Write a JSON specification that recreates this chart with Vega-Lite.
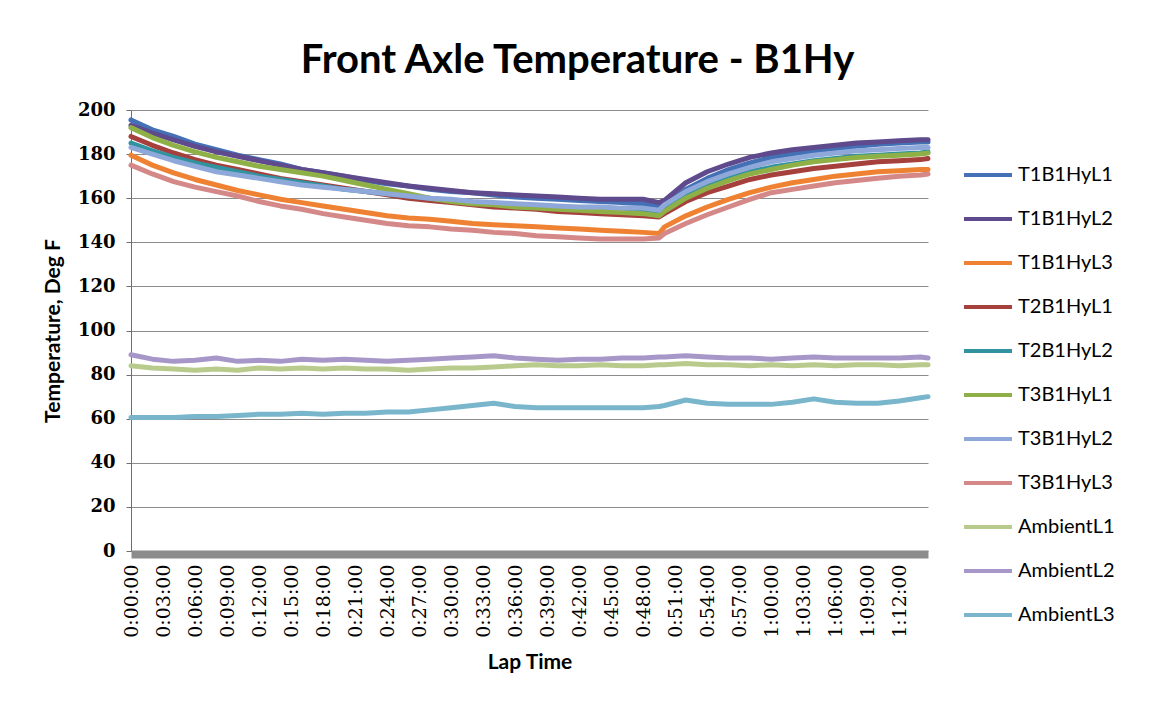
{
  "$schema": "https://vega.github.io/schema/vega-lite/v6.json",
  "autosize": {"type": "none"},
  "width": 797,
  "height": 441,
  "padding": {"left": 131, "top": 110, "right": 223, "bottom": 161},
  "background": "white",
  "title": {
    "text": "Front Axle Temperature - B1Hy",
    "font": "Lato",
    "fontSize": 40,
    "fontWeight": "bold",
    "color": "#000000",
    "anchor": "middle",
    "frame": "group",
    "dx": 48,
    "offset": 20
  },
  "config": {
    "view": {"stroke": null},
    "font": "Lato"
  },
  "data": {
    "values": [
{"t":0,"s":"T1B1HyL1","v":195.5},{"t":120000,"s":"T1B1HyL1","v":191},{"t":240000,"s":"T1B1HyL1","v":188},{"t":360000,"s":"T1B1HyL1","v":184.5},{"t":480000,"s":"T1B1HyL1","v":182},{"t":600000,"s":"T1B1HyL1","v":179.5},{"t":720000,"s":"T1B1HyL1","v":177.5},{"t":840000,"s":"T1B1HyL1","v":175.5},{"t":960000,"s":"T1B1HyL1","v":173},{"t":1080000,"s":"T1B1HyL1","v":171.5},{"t":1200000,"s":"T1B1HyL1","v":170},{"t":1320000,"s":"T1B1HyL1","v":168},{"t":1440000,"s":"T1B1HyL1","v":166.5},{"t":1560000,"s":"T1B1HyL1","v":165.5},{"t":1680000,"s":"T1B1HyL1","v":164},{"t":1800000,"s":"T1B1HyL1","v":163},{"t":1920000,"s":"T1B1HyL1","v":162.5},{"t":2040000,"s":"T1B1HyL1","v":161.5},{"t":2160000,"s":"T1B1HyL1","v":160.5},{"t":2280000,"s":"T1B1HyL1","v":160},{"t":2400000,"s":"T1B1HyL1","v":159.5},{"t":2520000,"s":"T1B1HyL1","v":159},{"t":2640000,"s":"T1B1HyL1","v":158.5},{"t":2760000,"s":"T1B1HyL1","v":158},{"t":2880000,"s":"T1B1HyL1","v":157.5},{"t":2970000,"s":"T1B1HyL1","v":156},{"t":3000000,"s":"T1B1HyL1","v":157},{"t":3120000,"s":"T1B1HyL1","v":164},{"t":3240000,"s":"T1B1HyL1","v":169},{"t":3360000,"s":"T1B1HyL1","v":173},{"t":3480000,"s":"T1B1HyL1","v":176},{"t":3600000,"s":"T1B1HyL1","v":178.5},{"t":3720000,"s":"T1B1HyL1","v":180},{"t":3840000,"s":"T1B1HyL1","v":181.5},{"t":3960000,"s":"T1B1HyL1","v":182.5},{"t":4080000,"s":"T1B1HyL1","v":183.5},{"t":4200000,"s":"T1B1HyL1","v":184.5},{"t":4320000,"s":"T1B1HyL1","v":185},{"t":4440000,"s":"T1B1HyL1","v":185.5},{"t":4482000,"s":"T1B1HyL1","v":185.5},
{"t":0,"s":"T1B1HyL2","v":193},{"t":120000,"s":"T1B1HyL2","v":189.5},{"t":240000,"s":"T1B1HyL2","v":186.5},{"t":360000,"s":"T1B1HyL2","v":183.5},{"t":480000,"s":"T1B1HyL2","v":181},{"t":600000,"s":"T1B1HyL2","v":179},{"t":720000,"s":"T1B1HyL2","v":177},{"t":840000,"s":"T1B1HyL2","v":175},{"t":960000,"s":"T1B1HyL2","v":173},{"t":1080000,"s":"T1B1HyL2","v":171.5},{"t":1200000,"s":"T1B1HyL2","v":170},{"t":1320000,"s":"T1B1HyL2","v":168.5},{"t":1440000,"s":"T1B1HyL2","v":167},{"t":1560000,"s":"T1B1HyL2","v":165.5},{"t":1680000,"s":"T1B1HyL2","v":164.5},{"t":1800000,"s":"T1B1HyL2","v":163.5},{"t":1920000,"s":"T1B1HyL2","v":162.5},{"t":2040000,"s":"T1B1HyL2","v":162},{"t":2160000,"s":"T1B1HyL2","v":161.5},{"t":2280000,"s":"T1B1HyL2","v":161},{"t":2400000,"s":"T1B1HyL2","v":160.5},{"t":2520000,"s":"T1B1HyL2","v":160},{"t":2640000,"s":"T1B1HyL2","v":159.5},{"t":2760000,"s":"T1B1HyL2","v":159.5},{"t":2880000,"s":"T1B1HyL2","v":159.5},{"t":2970000,"s":"T1B1HyL2","v":158},{"t":3000000,"s":"T1B1HyL2","v":159},{"t":3120000,"s":"T1B1HyL2","v":167},{"t":3240000,"s":"T1B1HyL2","v":172},{"t":3360000,"s":"T1B1HyL2","v":175.5},{"t":3480000,"s":"T1B1HyL2","v":178.5},{"t":3600000,"s":"T1B1HyL2","v":180.5},{"t":3720000,"s":"T1B1HyL2","v":182},{"t":3840000,"s":"T1B1HyL2","v":183},{"t":3960000,"s":"T1B1HyL2","v":184},{"t":4080000,"s":"T1B1HyL2","v":185},{"t":4200000,"s":"T1B1HyL2","v":185.5},{"t":4320000,"s":"T1B1HyL2","v":186},{"t":4440000,"s":"T1B1HyL2","v":186.5},{"t":4482000,"s":"T1B1HyL2","v":186.5},
{"t":0,"s":"T1B1HyL3","v":179.5},{"t":120000,"s":"T1B1HyL3","v":175},{"t":240000,"s":"T1B1HyL3","v":171.5},{"t":360000,"s":"T1B1HyL3","v":168.5},{"t":480000,"s":"T1B1HyL3","v":166},{"t":600000,"s":"T1B1HyL3","v":163.5},{"t":720000,"s":"T1B1HyL3","v":161.5},{"t":840000,"s":"T1B1HyL3","v":159.5},{"t":960000,"s":"T1B1HyL3","v":158},{"t":1080000,"s":"T1B1HyL3","v":156.5},{"t":1200000,"s":"T1B1HyL3","v":155},{"t":1320000,"s":"T1B1HyL3","v":153.5},{"t":1440000,"s":"T1B1HyL3","v":152},{"t":1560000,"s":"T1B1HyL3","v":151},{"t":1680000,"s":"T1B1HyL3","v":150.5},{"t":1800000,"s":"T1B1HyL3","v":149.5},{"t":1920000,"s":"T1B1HyL3","v":148.5},{"t":2040000,"s":"T1B1HyL3","v":148},{"t":2160000,"s":"T1B1HyL3","v":147.5},{"t":2280000,"s":"T1B1HyL3","v":147},{"t":2400000,"s":"T1B1HyL3","v":146.5},{"t":2520000,"s":"T1B1HyL3","v":146},{"t":2640000,"s":"T1B1HyL3","v":145.5},{"t":2760000,"s":"T1B1HyL3","v":145},{"t":2880000,"s":"T1B1HyL3","v":144.5},{"t":2970000,"s":"T1B1HyL3","v":144},{"t":3000000,"s":"T1B1HyL3","v":147},{"t":3120000,"s":"T1B1HyL3","v":152},{"t":3240000,"s":"T1B1HyL3","v":156},{"t":3360000,"s":"T1B1HyL3","v":159.5},{"t":3480000,"s":"T1B1HyL3","v":162.5},{"t":3600000,"s":"T1B1HyL3","v":165},{"t":3720000,"s":"T1B1HyL3","v":167},{"t":3840000,"s":"T1B1HyL3","v":168.5},{"t":3960000,"s":"T1B1HyL3","v":170},{"t":4080000,"s":"T1B1HyL3","v":171},{"t":4200000,"s":"T1B1HyL3","v":172},{"t":4320000,"s":"T1B1HyL3","v":172.5},{"t":4440000,"s":"T1B1HyL3","v":173},{"t":4482000,"s":"T1B1HyL3","v":173},
{"t":0,"s":"T2B1HyL1","v":188},{"t":120000,"s":"T2B1HyL1","v":184},{"t":240000,"s":"T2B1HyL1","v":180.5},{"t":360000,"s":"T2B1HyL1","v":177.5},{"t":480000,"s":"T2B1HyL1","v":175},{"t":600000,"s":"T2B1HyL1","v":173},{"t":720000,"s":"T2B1HyL1","v":171},{"t":840000,"s":"T2B1HyL1","v":169},{"t":960000,"s":"T2B1HyL1","v":167.5},{"t":1080000,"s":"T2B1HyL1","v":166},{"t":1200000,"s":"T2B1HyL1","v":164.5},{"t":1320000,"s":"T2B1HyL1","v":163},{"t":1440000,"s":"T2B1HyL1","v":161.5},{"t":1560000,"s":"T2B1HyL1","v":160},{"t":1680000,"s":"T2B1HyL1","v":159},{"t":1800000,"s":"T2B1HyL1","v":158},{"t":1920000,"s":"T2B1HyL1","v":157},{"t":2040000,"s":"T2B1HyL1","v":156},{"t":2160000,"s":"T2B1HyL1","v":155.5},{"t":2280000,"s":"T2B1HyL1","v":155},{"t":2400000,"s":"T2B1HyL1","v":154},{"t":2520000,"s":"T2B1HyL1","v":153.5},{"t":2640000,"s":"T2B1HyL1","v":153},{"t":2760000,"s":"T2B1HyL1","v":152.5},{"t":2880000,"s":"T2B1HyL1","v":152},{"t":2970000,"s":"T2B1HyL1","v":151.5},{"t":3000000,"s":"T2B1HyL1","v":153},{"t":3120000,"s":"T2B1HyL1","v":158.5},{"t":3240000,"s":"T2B1HyL1","v":162.5},{"t":3360000,"s":"T2B1HyL1","v":165.5},{"t":3480000,"s":"T2B1HyL1","v":168.5},{"t":3600000,"s":"T2B1HyL1","v":170.5},{"t":3720000,"s":"T2B1HyL1","v":172},{"t":3840000,"s":"T2B1HyL1","v":173.5},{"t":3960000,"s":"T2B1HyL1","v":174.5},{"t":4080000,"s":"T2B1HyL1","v":175.5},{"t":4200000,"s":"T2B1HyL1","v":176.5},{"t":4320000,"s":"T2B1HyL1","v":177},{"t":4440000,"s":"T2B1HyL1","v":177.5},{"t":4482000,"s":"T2B1HyL1","v":178},
{"t":0,"s":"T2B1HyL2","v":185},{"t":120000,"s":"T2B1HyL2","v":181.5},{"t":240000,"s":"T2B1HyL2","v":178.5},{"t":360000,"s":"T2B1HyL2","v":176},{"t":480000,"s":"T2B1HyL2","v":174},{"t":600000,"s":"T2B1HyL2","v":172},{"t":720000,"s":"T2B1HyL2","v":170},{"t":840000,"s":"T2B1HyL2","v":168.5},{"t":960000,"s":"T2B1HyL2","v":167},{"t":1080000,"s":"T2B1HyL2","v":165.5},{"t":1200000,"s":"T2B1HyL2","v":164},{"t":1320000,"s":"T2B1HyL2","v":163},{"t":1440000,"s":"T2B1HyL2","v":162},{"t":1560000,"s":"T2B1HyL2","v":161},{"t":1680000,"s":"T2B1HyL2","v":160},{"t":1800000,"s":"T2B1HyL2","v":159},{"t":1920000,"s":"T2B1HyL2","v":158},{"t":2040000,"s":"T2B1HyL2","v":157.5},{"t":2160000,"s":"T2B1HyL2","v":157},{"t":2280000,"s":"T2B1HyL2","v":156.5},{"t":2400000,"s":"T2B1HyL2","v":156},{"t":2520000,"s":"T2B1HyL2","v":155.5},{"t":2640000,"s":"T2B1HyL2","v":155},{"t":2760000,"s":"T2B1HyL2","v":154.5},{"t":2880000,"s":"T2B1HyL2","v":154},{"t":2970000,"s":"T2B1HyL2","v":153},{"t":3000000,"s":"T2B1HyL2","v":155},{"t":3120000,"s":"T2B1HyL2","v":161},{"t":3240000,"s":"T2B1HyL2","v":165.5},{"t":3360000,"s":"T2B1HyL2","v":169},{"t":3480000,"s":"T2B1HyL2","v":172},{"t":3600000,"s":"T2B1HyL2","v":174},{"t":3720000,"s":"T2B1HyL2","v":175.5},{"t":3840000,"s":"T2B1HyL2","v":177},{"t":3960000,"s":"T2B1HyL2","v":178},{"t":4080000,"s":"T2B1HyL2","v":179},{"t":4200000,"s":"T2B1HyL2","v":179.5},{"t":4320000,"s":"T2B1HyL2","v":180},{"t":4440000,"s":"T2B1HyL2","v":180.5},{"t":4482000,"s":"T2B1HyL2","v":181},
{"t":0,"s":"T3B1HyL1","v":192},{"t":120000,"s":"T3B1HyL1","v":187.5},{"t":240000,"s":"T3B1HyL1","v":184},{"t":360000,"s":"T3B1HyL1","v":181},{"t":480000,"s":"T3B1HyL1","v":178.5},{"t":600000,"s":"T3B1HyL1","v":176.5},{"t":720000,"s":"T3B1HyL1","v":174.5},{"t":840000,"s":"T3B1HyL1","v":173},{"t":960000,"s":"T3B1HyL1","v":171.5},{"t":1080000,"s":"T3B1HyL1","v":170},{"t":1200000,"s":"T3B1HyL1","v":168},{"t":1320000,"s":"T3B1HyL1","v":166},{"t":1440000,"s":"T3B1HyL1","v":164},{"t":1560000,"s":"T3B1HyL1","v":162},{"t":1680000,"s":"T3B1HyL1","v":160},{"t":1800000,"s":"T3B1HyL1","v":158.5},{"t":1920000,"s":"T3B1HyL1","v":157.5},{"t":2040000,"s":"T3B1HyL1","v":157},{"t":2160000,"s":"T3B1HyL1","v":156},{"t":2280000,"s":"T3B1HyL1","v":155.5},{"t":2400000,"s":"T3B1HyL1","v":155},{"t":2520000,"s":"T3B1HyL1","v":154.5},{"t":2640000,"s":"T3B1HyL1","v":154},{"t":2760000,"s":"T3B1HyL1","v":153.5},{"t":2880000,"s":"T3B1HyL1","v":153},{"t":2970000,"s":"T3B1HyL1","v":152},{"t":3000000,"s":"T3B1HyL1","v":154},{"t":3120000,"s":"T3B1HyL1","v":160},{"t":3240000,"s":"T3B1HyL1","v":164.5},{"t":3360000,"s":"T3B1HyL1","v":168},{"t":3480000,"s":"T3B1HyL1","v":171},{"t":3600000,"s":"T3B1HyL1","v":173},{"t":3720000,"s":"T3B1HyL1","v":175},{"t":3840000,"s":"T3B1HyL1","v":176.5},{"t":3960000,"s":"T3B1HyL1","v":177.5},{"t":4080000,"s":"T3B1HyL1","v":178.5},{"t":4200000,"s":"T3B1HyL1","v":179},{"t":4320000,"s":"T3B1HyL1","v":179.5},{"t":4440000,"s":"T3B1HyL1","v":180},{"t":4482000,"s":"T3B1HyL1","v":180.5},
{"t":0,"s":"T3B1HyL2","v":183},{"t":120000,"s":"T3B1HyL2","v":180},{"t":240000,"s":"T3B1HyL2","v":177},{"t":360000,"s":"T3B1HyL2","v":174.5},{"t":480000,"s":"T3B1HyL2","v":172},{"t":600000,"s":"T3B1HyL2","v":170.5},{"t":720000,"s":"T3B1HyL2","v":169},{"t":840000,"s":"T3B1HyL2","v":167.5},{"t":960000,"s":"T3B1HyL2","v":166},{"t":1080000,"s":"T3B1HyL2","v":165},{"t":1200000,"s":"T3B1HyL2","v":164},{"t":1320000,"s":"T3B1HyL2","v":163},{"t":1440000,"s":"T3B1HyL2","v":162},{"t":1560000,"s":"T3B1HyL2","v":161},{"t":1680000,"s":"T3B1HyL2","v":160},{"t":1800000,"s":"T3B1HyL2","v":159.5},{"t":1920000,"s":"T3B1HyL2","v":158.5},{"t":2040000,"s":"T3B1HyL2","v":158},{"t":2160000,"s":"T3B1HyL2","v":157.5},{"t":2280000,"s":"T3B1HyL2","v":157},{"t":2400000,"s":"T3B1HyL2","v":156.5},{"t":2520000,"s":"T3B1HyL2","v":156},{"t":2640000,"s":"T3B1HyL2","v":156},{"t":2760000,"s":"T3B1HyL2","v":155.5},{"t":2880000,"s":"T3B1HyL2","v":155.5},{"t":2970000,"s":"T3B1HyL2","v":154.5},{"t":3000000,"s":"T3B1HyL2","v":157},{"t":3120000,"s":"T3B1HyL2","v":163},{"t":3240000,"s":"T3B1HyL2","v":167.5},{"t":3360000,"s":"T3B1HyL2","v":171},{"t":3480000,"s":"T3B1HyL2","v":174},{"t":3600000,"s":"T3B1HyL2","v":176.5},{"t":3720000,"s":"T3B1HyL2","v":178},{"t":3840000,"s":"T3B1HyL2","v":179.5},{"t":3960000,"s":"T3B1HyL2","v":180.5},{"t":4080000,"s":"T3B1HyL2","v":181.5},{"t":4200000,"s":"T3B1HyL2","v":182},{"t":4320000,"s":"T3B1HyL2","v":182.5},{"t":4440000,"s":"T3B1HyL2","v":183},{"t":4482000,"s":"T3B1HyL2","v":183},
{"t":0,"s":"T3B1HyL3","v":175},{"t":120000,"s":"T3B1HyL3","v":171},{"t":240000,"s":"T3B1HyL3","v":167.5},{"t":360000,"s":"T3B1HyL3","v":165},{"t":480000,"s":"T3B1HyL3","v":163},{"t":600000,"s":"T3B1HyL3","v":161},{"t":720000,"s":"T3B1HyL3","v":158.5},{"t":840000,"s":"T3B1HyL3","v":156.5},{"t":960000,"s":"T3B1HyL3","v":155},{"t":1080000,"s":"T3B1HyL3","v":153},{"t":1200000,"s":"T3B1HyL3","v":151.5},{"t":1320000,"s":"T3B1HyL3","v":150},{"t":1440000,"s":"T3B1HyL3","v":148.5},{"t":1560000,"s":"T3B1HyL3","v":147.5},{"t":1680000,"s":"T3B1HyL3","v":147},{"t":1800000,"s":"T3B1HyL3","v":146},{"t":1920000,"s":"T3B1HyL3","v":145.5},{"t":2040000,"s":"T3B1HyL3","v":144.5},{"t":2160000,"s":"T3B1HyL3","v":144},{"t":2280000,"s":"T3B1HyL3","v":143},{"t":2400000,"s":"T3B1HyL3","v":142.5},{"t":2520000,"s":"T3B1HyL3","v":142},{"t":2640000,"s":"T3B1HyL3","v":141.5},{"t":2760000,"s":"T3B1HyL3","v":141.5},{"t":2880000,"s":"T3B1HyL3","v":141.5},{"t":2970000,"s":"T3B1HyL3","v":142},{"t":3000000,"s":"T3B1HyL3","v":144},{"t":3120000,"s":"T3B1HyL3","v":148.5},{"t":3240000,"s":"T3B1HyL3","v":152.5},{"t":3360000,"s":"T3B1HyL3","v":156},{"t":3480000,"s":"T3B1HyL3","v":159.5},{"t":3600000,"s":"T3B1HyL3","v":162.5},{"t":3720000,"s":"T3B1HyL3","v":164},{"t":3840000,"s":"T3B1HyL3","v":165.5},{"t":3960000,"s":"T3B1HyL3","v":167},{"t":4080000,"s":"T3B1HyL3","v":168},{"t":4200000,"s":"T3B1HyL3","v":169},{"t":4320000,"s":"T3B1HyL3","v":170},{"t":4440000,"s":"T3B1HyL3","v":170.5},{"t":4482000,"s":"T3B1HyL3","v":171},
{"t":0,"s":"AmbientL1","v":84},{"t":120000,"s":"AmbientL1","v":83},{"t":240000,"s":"AmbientL1","v":82.5},{"t":360000,"s":"AmbientL1","v":82},{"t":480000,"s":"AmbientL1","v":82.5},{"t":600000,"s":"AmbientL1","v":82},{"t":720000,"s":"AmbientL1","v":83},{"t":840000,"s":"AmbientL1","v":82.5},{"t":960000,"s":"AmbientL1","v":83},{"t":1080000,"s":"AmbientL1","v":82.5},{"t":1200000,"s":"AmbientL1","v":83},{"t":1320000,"s":"AmbientL1","v":82.5},{"t":1440000,"s":"AmbientL1","v":82.5},{"t":1560000,"s":"AmbientL1","v":82},{"t":1680000,"s":"AmbientL1","v":82.5},{"t":1800000,"s":"AmbientL1","v":83},{"t":1920000,"s":"AmbientL1","v":83},{"t":2040000,"s":"AmbientL1","v":83.5},{"t":2160000,"s":"AmbientL1","v":84},{"t":2280000,"s":"AmbientL1","v":84.5},{"t":2400000,"s":"AmbientL1","v":84},{"t":2520000,"s":"AmbientL1","v":84},{"t":2640000,"s":"AmbientL1","v":84.5},{"t":2760000,"s":"AmbientL1","v":84},{"t":2880000,"s":"AmbientL1","v":84},{"t":2970000,"s":"AmbientL1","v":84.5},{"t":3000000,"s":"AmbientL1","v":84.5},{"t":3120000,"s":"AmbientL1","v":85},{"t":3240000,"s":"AmbientL1","v":84.5},{"t":3360000,"s":"AmbientL1","v":84.5},{"t":3480000,"s":"AmbientL1","v":84},{"t":3600000,"s":"AmbientL1","v":84.5},{"t":3720000,"s":"AmbientL1","v":84},{"t":3840000,"s":"AmbientL1","v":84.5},{"t":3960000,"s":"AmbientL1","v":84},{"t":4080000,"s":"AmbientL1","v":84.5},{"t":4200000,"s":"AmbientL1","v":84.5},{"t":4320000,"s":"AmbientL1","v":84},{"t":4440000,"s":"AmbientL1","v":84.5},{"t":4482000,"s":"AmbientL1","v":84.5},
{"t":0,"s":"AmbientL2","v":89},{"t":120000,"s":"AmbientL2","v":87},{"t":240000,"s":"AmbientL2","v":86},{"t":360000,"s":"AmbientL2","v":86.5},{"t":480000,"s":"AmbientL2","v":87.5},{"t":600000,"s":"AmbientL2","v":86},{"t":720000,"s":"AmbientL2","v":86.5},{"t":840000,"s":"AmbientL2","v":86},{"t":960000,"s":"AmbientL2","v":87},{"t":1080000,"s":"AmbientL2","v":86.5},{"t":1200000,"s":"AmbientL2","v":87},{"t":1320000,"s":"AmbientL2","v":86.5},{"t":1440000,"s":"AmbientL2","v":86},{"t":1560000,"s":"AmbientL2","v":86.5},{"t":1680000,"s":"AmbientL2","v":87},{"t":1800000,"s":"AmbientL2","v":87.5},{"t":1920000,"s":"AmbientL2","v":88},{"t":2040000,"s":"AmbientL2","v":88.5},{"t":2160000,"s":"AmbientL2","v":87.5},{"t":2280000,"s":"AmbientL2","v":87},{"t":2400000,"s":"AmbientL2","v":86.5},{"t":2520000,"s":"AmbientL2","v":87},{"t":2640000,"s":"AmbientL2","v":87},{"t":2760000,"s":"AmbientL2","v":87.5},{"t":2880000,"s":"AmbientL2","v":87.5},{"t":2970000,"s":"AmbientL2","v":88},{"t":3000000,"s":"AmbientL2","v":88},{"t":3120000,"s":"AmbientL2","v":88.5},{"t":3240000,"s":"AmbientL2","v":88},{"t":3360000,"s":"AmbientL2","v":87.5},{"t":3480000,"s":"AmbientL2","v":87.5},{"t":3600000,"s":"AmbientL2","v":87},{"t":3720000,"s":"AmbientL2","v":87.5},{"t":3840000,"s":"AmbientL2","v":88},{"t":3960000,"s":"AmbientL2","v":87.5},{"t":4080000,"s":"AmbientL2","v":87.5},{"t":4200000,"s":"AmbientL2","v":87.5},{"t":4320000,"s":"AmbientL2","v":87.5},{"t":4440000,"s":"AmbientL2","v":88},{"t":4482000,"s":"AmbientL2","v":87.5},
{"t":0,"s":"AmbientL3","v":60.5},{"t":120000,"s":"AmbientL3","v":60.5},{"t":240000,"s":"AmbientL3","v":60.5},{"t":360000,"s":"AmbientL3","v":61},{"t":480000,"s":"AmbientL3","v":61},{"t":600000,"s":"AmbientL3","v":61.5},{"t":720000,"s":"AmbientL3","v":62},{"t":840000,"s":"AmbientL3","v":62},{"t":960000,"s":"AmbientL3","v":62.5},{"t":1080000,"s":"AmbientL3","v":62},{"t":1200000,"s":"AmbientL3","v":62.5},{"t":1320000,"s":"AmbientL3","v":62.5},{"t":1440000,"s":"AmbientL3","v":63},{"t":1560000,"s":"AmbientL3","v":63},{"t":1680000,"s":"AmbientL3","v":64},{"t":1800000,"s":"AmbientL3","v":65},{"t":1920000,"s":"AmbientL3","v":66},{"t":2040000,"s":"AmbientL3","v":67},{"t":2160000,"s":"AmbientL3","v":65.5},{"t":2280000,"s":"AmbientL3","v":65},{"t":2400000,"s":"AmbientL3","v":65},{"t":2520000,"s":"AmbientL3","v":65},{"t":2640000,"s":"AmbientL3","v":65},{"t":2760000,"s":"AmbientL3","v":65},{"t":2880000,"s":"AmbientL3","v":65},{"t":2970000,"s":"AmbientL3","v":65.5},{"t":3000000,"s":"AmbientL3","v":66},{"t":3120000,"s":"AmbientL3","v":68.5},{"t":3240000,"s":"AmbientL3","v":67},{"t":3360000,"s":"AmbientL3","v":66.5},{"t":3480000,"s":"AmbientL3","v":66.5},{"t":3600000,"s":"AmbientL3","v":66.5},{"t":3720000,"s":"AmbientL3","v":67.5},{"t":3840000,"s":"AmbientL3","v":69},{"t":3960000,"s":"AmbientL3","v":67.5},{"t":4080000,"s":"AmbientL3","v":67},{"t":4200000,"s":"AmbientL3","v":67},{"t":4320000,"s":"AmbientL3","v":68},{"t":4440000,"s":"AmbientL3","v":69.5},{"t":4482000,"s":"AmbientL3","v":70}
    ]
  },
  "mark": {"type": "line", "strokeWidth": 5, "strokeJoin": "round", "strokeCap": "round"},
  "encoding": {
    "x": {
      "field": "t",
      "type": "temporal",
      "scale": {"type": "utc", "nice": false},
      "axis": {
        "title": "Lap Time",
        "titleFont": "Lato",
        "titleFontSize": 21,
        "titleFontWeight": "bold",
        "titleColor": "#000000",
        "titlePadding": 14,
        "labelExpr": "utcFormat(datum.value, '%-H:%M:%S')",
        "values": [0,180000,360000,540000,720000,900000,1080000,1260000,1440000,1620000,1800000,1980000,2160000,2340000,2520000,2700000,2880000,3060000,3240000,3420000,3600000,3780000,3960000,4140000,4320000],
        "labelAngle": -90,
        "labelAlign": "right",
        "labelBaseline": "middle",
        "labelFont": "DejaVu Serif",
        "labelFontSize": 19,
        "labelColor": "#000000",
        "labelPadding": 10,
        "labelOverlap": false,
        "labelFlush": false,
        "grid": false,
        "ticks": false,
        "domainColor": "#8c8c8c",
        "domainWidth": 8,
        "offset": 3
      }
    },
    "y": {
      "field": "v",
      "type": "quantitative",
      "scale": {"domain": [0, 200], "nice": false, "zero": true},
      "axis": {
        "title": "Temperature, Deg F",
        "titleFont": "Lato",
        "titleFontSize": 21,
        "titleFontWeight": "bold",
        "titleColor": "#000000",
        "titlePadding": 14,
        "values": [0, 20, 40, 60, 80, 100, 120, 140, 160, 180, 200],
        "labelFont": "DejaVu Serif",
        "labelFontWeight": "bold",
        "labelFontSize": 18,
        "labelColor": "#000000",
        "labelPadding": 11,
        "tickSize": 5,
        "tickColor": "#6e6e6e",
        "domainColor": "#6e6e6e",
        "grid": true,
        "gridColor": "#8c8c8c",
        "gridWidth": 1
      }
    },
    "color": {
      "field": "s",
      "type": "nominal",
      "scale": {
        "domain": ["T1B1HyL1", "T1B1HyL2", "T1B1HyL3", "T2B1HyL1", "T2B1HyL2", "T3B1HyL1", "T3B1HyL2", "T3B1HyL3", "AmbientL1", "AmbientL2", "AmbientL3"],
        "range": ["#4470B5", "#5E4A8C", "#EE8232", "#A5403D", "#31939F", "#8EB046", "#8FA8DA", "#D48888", "#B9CB8C", "#A797C9", "#79B6CC"]
      },
      "legend": {
        "title": null,
        "orient": "none",
        "legendX": 831,
        "legendY": 39,
        "padding": 0,
        "symbolType": "stroke",
        "symbolSize": 2300,
        "symbolStrokeWidth": 4,
        "rowPadding": 8,
        "labelOffset": 4,
        "labelFont": "Lato",
        "labelFontSize": 20,
        "labelColor": "#000000",
        "labelLimit": 200
      }
    }
  }
}
